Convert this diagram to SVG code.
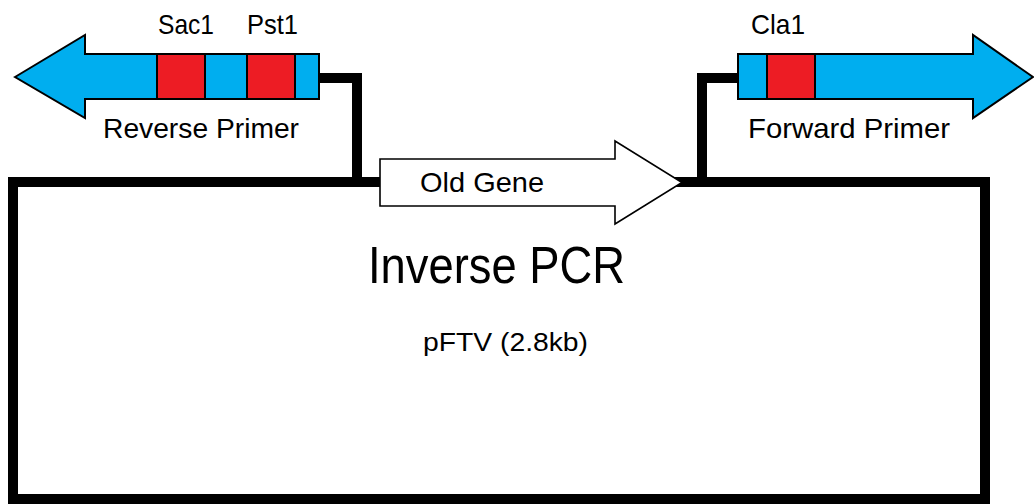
<svg xmlns="http://www.w3.org/2000/svg" width="1034" height="504" viewBox="0 0 1034 504">
  <style>
    .lbl { font-family: "Liberation Sans", Arial, sans-serif; fill: #000; }
    .small { font-size: 28px; }
    .primer { fill: #00AEEF; stroke: #000; stroke-width: 2; stroke-linejoin: miter; }
    .site { fill: #ED1C24; stroke: #000; stroke-width: 2; }
    .wire { fill: none; stroke: #000; stroke-width: 10; stroke-linejoin: miter; stroke-linecap: butt; }
  </style>
  <rect width="1034" height="504" fill="#fff"/>

  <!-- plasmid backbone drawn as a box -->
  <g id="plasmid">
    <rect x="13" y="182" width="972" height="317" fill="#fff" stroke="#000" stroke-width="10"/>
    <text class="lbl" x="368" y="283" font-size="52" textLength="257" lengthAdjust="spacingAndGlyphs">Inverse PCR</text>
    <text class="lbl" x="423" y="351" font-size="26" textLength="165" lengthAdjust="spacingAndGlyphs">pFTV (2.8kb)</text>
  </g>

  <!-- primer tails joining the backbone -->
  <g id="connectors">
    <path class="wire" d="M319,78 H357 V182"/>
    <path class="wire" d="M738,78 H702 V182"/>
  </g>

  <g id="old-gene">
    <polygon points="380,159 615,159 615,141 682,182.5 615,224 615,206 380,206" fill="#fff" stroke="#000" stroke-width="1.6"/>
    <text class="lbl small" x="420" y="192" textLength="124" lengthAdjust="spacingAndGlyphs">Old Gene</text>
  </g>

  <g id="reverse-primer">
    <polygon class="primer" points="15,77 85,35 85,54 319,54 319,99 85,99 85,118"/>
    <rect class="site" x="157" y="54" width="48" height="45"/>
    <rect class="site" x="247" y="54" width="48" height="45"/>
    <text class="lbl small" x="158" y="34" textLength="56" lengthAdjust="spacingAndGlyphs">Sac1</text>
    <text class="lbl small" x="247" y="34" textLength="51" lengthAdjust="spacingAndGlyphs">Pst1</text>
    <text class="lbl small" x="103" y="138" textLength="196" lengthAdjust="spacingAndGlyphs">Reverse Primer</text>
  </g>

  <g id="forward-primer">
    <polygon class="primer" points="738,54 973,54 973,35 1033,77 973,118 973,99 738,99"/>
    <rect class="site" x="767" y="54" width="48" height="45"/>
    <text class="lbl small" x="751" y="34" textLength="54" lengthAdjust="spacingAndGlyphs">Cla1</text>
    <text class="lbl small" x="748" y="138" textLength="202" lengthAdjust="spacingAndGlyphs">Forward Primer</text>
  </g>
</svg>
